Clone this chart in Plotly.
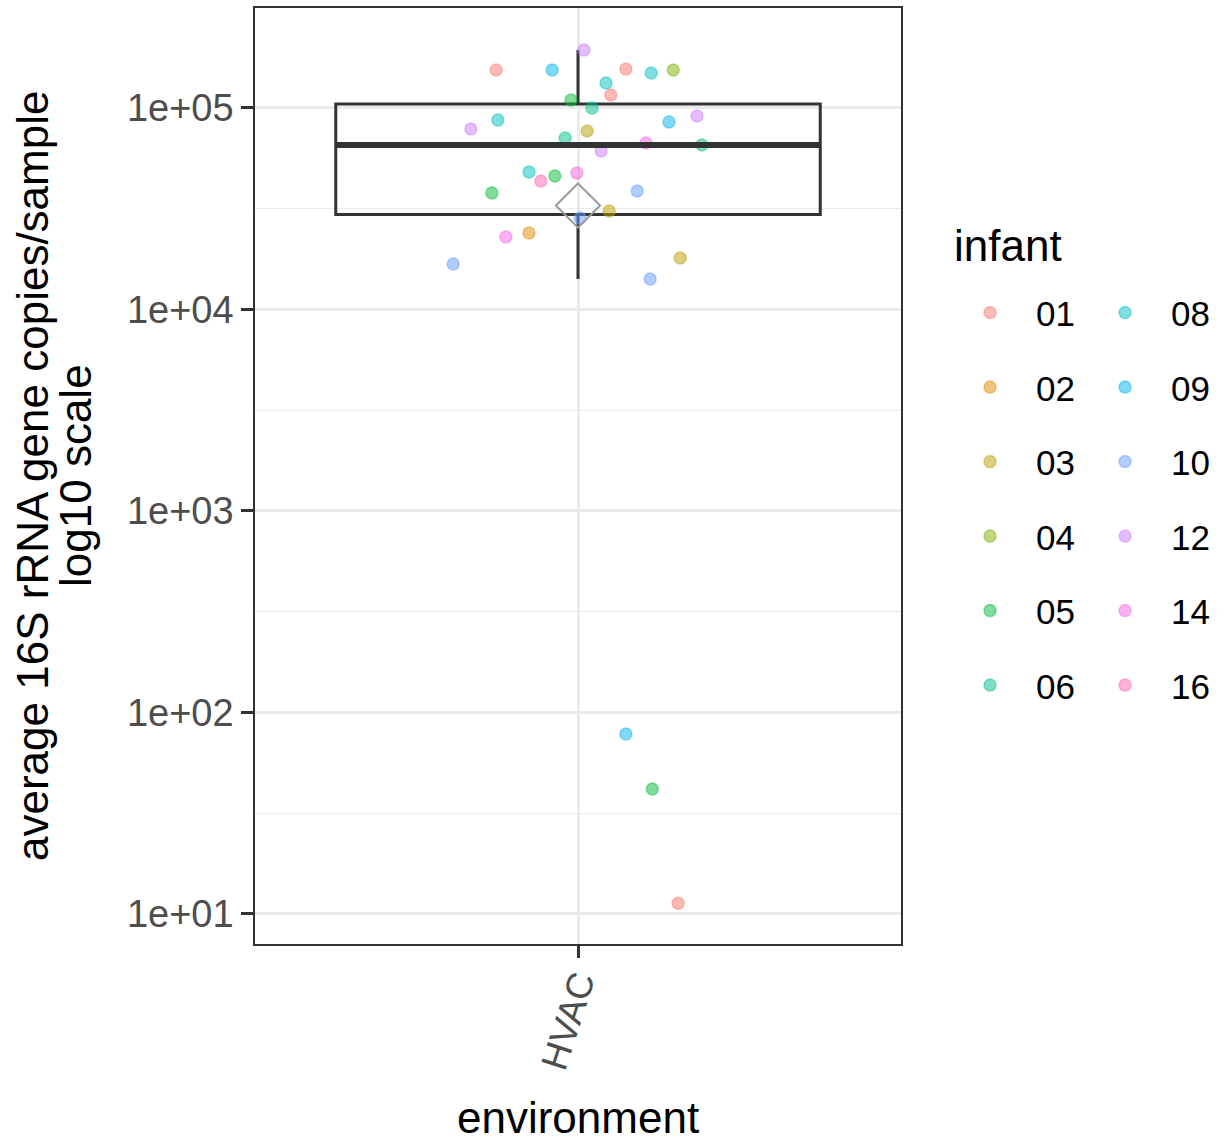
import numpy as np
import plotly.graph_objects as go

# Average 16S rRNA gene copies per sample, HVAC environment, one value per sample
infant = ["01", "09", "12", "01", "08", "04", "08", "01", "05", "06",
          "12", "08", "09", "12", "03", "06", "14", "06", "12", "08",
          "16", "05", "14", "05", "10", "03", "10", "14", "02", "10",
          "03", "10", "09", "05", "01"]
copies = [154400, 154400, 194000, 156100, 149200, 154400, 133100, 116000, 109600, 100000,
          78670, 87200, 85200, 91300, 76900, 71000, 67000, 65500, 61200, 48100,
          43400, 46000, 47600, 37860, 38740, 30830, 28460, 22900, 23970, 16820,
          18010, 14170, 78.2, 41.7, 11.3]
# horizontal jitter of each sample around its category (category units)
jitter = [-0.152, -0.048, 0.011, 0.089, 0.136, 0.177, 0.052, 0.061, -0.013, 0.026,
          -0.199, -0.149, 0.169, 0.221, 0.017, -0.024, 0.126, 0.230, 0.043, -0.091,
          -0.069, -0.043, -0.002, -0.160, 0.110, 0.058, 0.004, -0.134, -0.091, -0.232,
          0.190, 0.134, 0.089, 0.138, 0.186]

environment = ["HVAC"]
infant_levels = ["01", "02", "03", "04", "05", "06", "08", "09", "10", "12", "14", "16"]
palette = ["#F8766D", "#DE8C00", "#B79F00", "#7CAE00", "#00BA38", "#00C08B",
           "#00BFC4", "#00B4F0", "#619CFF", "#C77CFF", "#F564E3", "#FF64B0"]
y_ticks = [1e1, 1e2, 1e3, 1e4, 1e5]
y_ticktext = ["1e+01", "1e+02", "1e+03", "1e+04", "1e+05"]

FONT = "Liberation Sans, Arial, Helvetica, sans-serif"
env_pos = 1.0

# plot-area geometry (pixels) used to place the free-standing titles
PLOT_L, PLOT_T, PLOT_W, PLOT_H = 255, 8, 646, 936


def px_x(px):
    return (px - PLOT_L) / PLOT_W


def px_y(py):
    return 1 - (py - PLOT_T) / PLOT_H


def rgba(hex_color, a):
    h = hex_color.lstrip("#")
    r, g, b = int(h[0:2], 16), int(h[2:4], 16), int(h[4:6], 16)
    return f"rgba({r},{g},{b},{a})"


# box statistics on the log10 scale
logv = np.log10(np.array(copies, dtype=float))
q1, med, q3 = np.percentile(logv, [25, 50, 75])
iqr = q3 - q1
lo_fence = logv[logv >= q1 - 1.5 * iqr].min()
hi_fence = logv[logv <= q3 + 1.5 * iqr].max()
mean_log = logv.mean()

fig = go.Figure()

# jittered sample points, one trace per infant
for i, lev in enumerate(infant_levels):
    idx = [k for k, v in enumerate(infant) if v == lev]
    col = palette[i]
    fig.add_trace(go.Scatter(
        x=[env_pos + jitter[k] for k in idx],
        y=[copies[k] for k in idx],
        mode="markers",
        name=lev,
        legendgroup=lev,
        legend="legend" if i < 6 else "legend2",
        marker=dict(size=12, color=rgba(col, 0.5),
                    line=dict(color=rgba(col, 0.45), width=1.5)),
        hoverinfo="skip",
    ))

# boxplot
fig.add_trace(go.Box(
    x=[env_pos],
    q1=[10 ** q1], median=[10 ** med], q3=[10 ** q3],
    lowerfence=[10 ** lo_fence], upperfence=[10 ** hi_fence],
    width=0.9, whiskerwidth=0, boxpoints=False,
    fillcolor="rgba(0,0,0,0)",
    line=dict(color="#333333", width=3),
    showlegend=False, hoverinfo="skip",
))

# heavier median bar
fig.add_trace(go.Scatter(
    x=[env_pos - 0.45, env_pos + 0.45], y=[10 ** med, 10 ** med],
    mode="lines", line=dict(color="#333333", width=6),
    showlegend=False, hoverinfo="skip",
))

# mean (on the log scale)
fig.add_trace(go.Scatter(
    x=[env_pos], y=[10 ** mean_log], mode="markers",
    marker=dict(symbol="diamond-open", size=34, color="#9A9A9A",
                line=dict(color="#9A9A9A", width=2)),
    showlegend=False, hoverinfo="skip",
))

grid = "#EBEBEB"
legend_common = dict(
    yanchor="top", xanchor="left", y=0.7058,
    font=dict(size=35), itemwidth=82, tracegroupgap=26,
    bgcolor="rgba(0,0,0,0)",
)
fig.update_layout(
    width=1225, height=1144,
    margin=dict(l=PLOT_L, r=1225 - PLOT_L - PLOT_W, t=PLOT_T, b=1144 - PLOT_T - PLOT_H),
    paper_bgcolor="white", plot_bgcolor="white",
    font=dict(family=FONT, color="black"),
    xaxis=dict(
        range=[0.4, 1.6], tickvals=[env_pos], ticktext=environment,
        tickangle=-72, tickfont=dict(size=37, color="#4D4D4D"),
        ticklabelstandoff=-12,
        ticks="outside", ticklen=12, tickwidth=2.5, tickcolor="#333333",
        showgrid=True, gridcolor=grid, gridwidth=2.5, zeroline=False,
        showline=True, linecolor="#333333", linewidth=1.5, mirror=True,
        automargin=False,
    ),
    yaxis=dict(
        type="log", range=[0.851, 5.496],
        tickvals=y_ticks, ticktext=y_ticktext,
        tickfont=dict(size=38, color="#4D4D4D"),
        ticks="outside", ticklen=12, tickwidth=2.5, tickcolor="#333333",
        showgrid=True, gridcolor=grid, gridwidth=2.5, zeroline=False,
        minor=dict(tickvals=[10 ** (k + 0.5) for k in range(0, 6)],
                   showgrid=True, gridcolor=grid, gridwidth=1.3, ticks=""),
        showline=True, linecolor="#333333", linewidth=1.5, mirror=True,
        automargin=False,
    ),
    legend=dict(x=1.0666, **legend_common),
    legend2=dict(x=1.2756, **legend_common),
    annotations=[
        # legend title
        dict(text="infant", xref="paper", yref="paper", x=px_x(952), y=px_y(245),
             xanchor="left", yanchor="middle", showarrow=False,
             font=dict(size=44, color="black")),
        # y-axis title, two lines
        dict(text="average 16S rRNA gene copies/sample", textangle=-90,
             xref="paper", yref="paper", x=px_x(32), y=0.5,
             xanchor="center", yanchor="middle", showarrow=False,
             font=dict(size=44, color="black")),
        dict(text="log10 scale", textangle=-90,
             xref="paper", yref="paper", x=px_x(75), y=0.5,
             xanchor="center", yanchor="middle", showarrow=False,
             font=dict(size=44, color="black")),
        # x-axis title
        dict(text="environment", xref="paper", yref="paper",
             x=0.5, y=px_y(1117), yanchor="middle",
             xanchor="center", showarrow=False,
             font=dict(size=44, color="black")),
    ],
)

fig.write_html("out.html")
